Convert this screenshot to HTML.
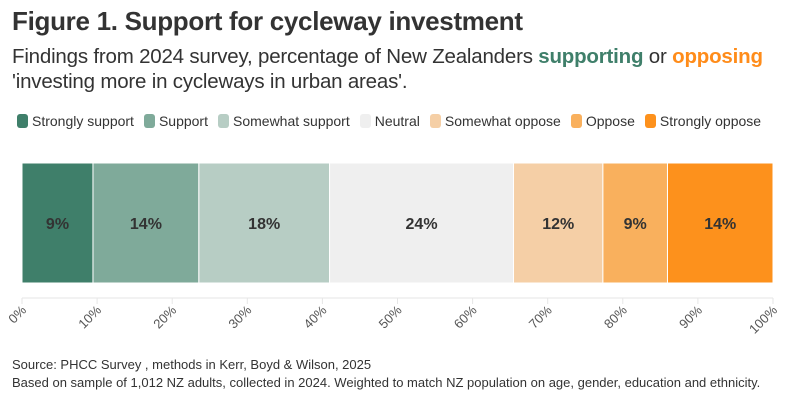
<!DOCTYPE html>
<html><head><meta charset="utf-8"><style>
body{margin:0;width:794px;height:402px;background:#fff;font-family:"Liberation Sans",sans-serif;color:#333;overflow:hidden;position:relative}
.t{position:absolute;left:12px;top:6px;font-size:26px;font-weight:bold;color:#333;letter-spacing:-0.3px}
.s{position:absolute;left:12px;top:44px;font-size:20.5px;line-height:25px;color:#333;width:790px;letter-spacing:-0.2px}
.g{color:#3f7f6a;font-weight:bold}.o{color:#ff8c1a;font-weight:bold}
.lg{position:absolute;left:17px;top:113px;font-size:14px;color:#333;display:flex;gap:10px;white-space:nowrap}
.lg span{display:flex;align-items:center}
.lg i{display:inline-block;width:11px;height:14px;border-radius:3px;margin-right:4px}
.f{position:absolute;left:12px;font-size:13px;color:#333}
</style></head><body>
<div class="t">Figure 1. Support for cycleway investment</div>
<div class="s">Findings from 2024 survey, percentage of New Zealanders <span class="g">supporting</span> or <span class="o">opposing</span> 'investing more in cycleways in urban areas'.</div>
<div class="lg" id="lg"></div>
<svg id="c" width="794" height="402" style="position:absolute;left:0;top:0"></svg>
<div class="f" style="top:357px">Source: PHCC Survey , methods in Kerr, Boyd &amp; Wilson, 2025</div>
<div class="f" style="top:375px">Based on sample of 1,012 NZ adults, collected in 2024. Weighted to match NZ population on age, gender, education and ethnicity.</div>
<script>
const categories=["Strongly support","Support","Somewhat support","Neutral","Somewhat oppose","Oppose","Strongly oppose"];
const values=[9.45,14.1,17.4,24.5,11.9,8.6,14.05];
const labels=["9%","14%","18%","24%","12%","9%","14%"];
const colors=["#3f7f6a","#7faa9a","#b7cdc4","#efefef","#f5cfa6","#f9b05d","#fd911c"];
const ticks=[0,10,20,30,40,50,60,70,80,90,100];
const NS="http://www.w3.org/2000/svg";
const svg=document.getElementById('c');
const x0=22,x1=773,y0=163,y1=283;
const xs=v=>x0+(x1-x0)*v/100;
function mk(t,a){const e=document.createElementNS(NS,t);for(const k in a)e.setAttribute(k,a[k]);svg.appendChild(e);return e;}
let cum=0;
values.forEach((v,i)=>{
 const r=mk('rect',{x:xs(cum),y:y0,width:xs(cum+v)-xs(cum),height:y1-y0,fill:colors[i],stroke:'#fff','stroke-width':1});
 
 
 const t=mk('text',{x:(xs(cum)+xs(cum+v))/2,y:(y0+y1)/2+6,'text-anchor':'middle','font-size':16,'font-weight':'bold',fill:'#333','font-family':'Liberation Sans, sans-serif'});
 t.textContent=labels[i];
 
 
 cum+=v;
});
const ax=mk('line',{x1:x0,x2:x1,y1:298,y2:298,stroke:'#e6e6e6','stroke-width':1});


ticks.forEach(t=>{
 const x=xs(t);
 const l=mk('line',{x1:x,x2:x,y1:298,y2:304,stroke:'#e6e6e6'});
 
 
 const tx=mk('text',{x:x+5,y:311,'text-anchor':'end','font-size':13,fill:'#555',transform:`rotate(-45 ${x+5} 311)`,'font-family':'Liberation Sans, sans-serif'});
 tx.textContent=t+'%';
 
 
});
const lg=document.getElementById('lg');
categories.forEach((c,i)=>{
 const s=document.createElement('span');
 s.innerHTML=`<i style="background:${colors[i]}"></i>${c}`;
 
 
 lg.appendChild(s);
});
</script>
</body></html>
